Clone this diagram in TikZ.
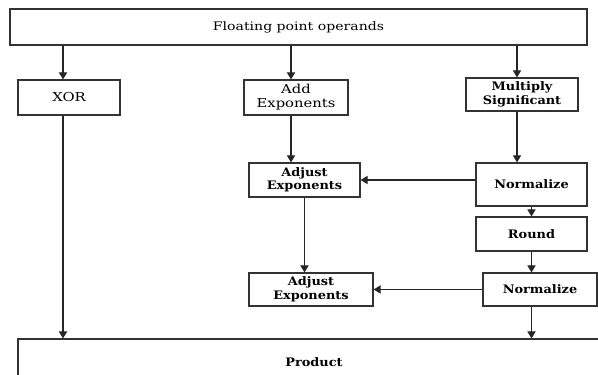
\documentclass[tikz,border=0pt]{standalone}
\usepackage{fontspec}
\setmainfont{DejaVu Serif}
\newfontfamily\widefont{DejaVu Serif}[FakeStretch=1.2]
\newfontfamily\widebf{DejaVu Serif}[FakeStretch=1.1]
\usetikzlibrary{arrows.meta}

\tikzset{
    blk/.style={draw=black!80, line width=1pt, align=center, inner sep=1pt,
        font=\widefont\fontsize{10.5}{12}\selectfont},
    boldblk/.style={blk, font=\widebf\fontsize{10}{11.5}\selectfont\bfseries},
    arr/.style={draw=black!85, line width=1pt, -{Triangle[length=6pt,width=7pt]}}
}

\begin{document}
\begin{tikzpicture}[x=0.03cm, y=-0.03cm]
    \useasboundingbox (0, 0) rectangle (598, 375);
    \clip (0, 0) rectangle (598, 375);

    % operands on top, product at the bottom
    \node[blk, minimum width=577*0.03cm, minimum height=36*0.03cm,
        font=\widefont\fontsize{10}{12}\selectfont] (operands) at (298.5, 27) {Floating point operands};
    \node[boldblk, minimum width=592*0.03cm, minimum height=46*0.03cm] (product) at (314, 362) {Product};

    % sign, exponent and significand paths
    \node[blk, minimum width=102*0.03cm, minimum height=35*0.03cm] (xor) at (69, 97.5) {XOR};
    \node[blk, minimum width=104*0.03cm, minimum height=35*0.03cm] (addexp) at (296, 97.5) {Add\\Exponents};
    \node[boldblk, minimum width=112*0.03cm, minimum height=33*0.03cm] (mult) at (522, 94.5) {Multiply\\Significant};

    \node[boldblk, minimum width=111*0.03cm, minimum height=34*0.03cm] (adjone) at (304.5, 180) {Adjust\\Exponents};
    \node[boldblk, minimum width=111*0.03cm, minimum height=43*0.03cm] (normone) at (531.5, 184.5) {Normalize};
    \node[boldblk, minimum width=111*0.03cm, minimum height=34*0.03cm] (round) at (531.5, 234) {Round};
    \node[boldblk, minimum width=124*0.03cm, minimum height=33*0.03cm] (adjtwo) at (311, 289.5) {Adjust\\Exponents};
    \node[boldblk, minimum width=114*0.03cm, minimum height=33*0.03cm] (normtwo) at (540, 289.5) {Normalize};

    % arrows sit a little left of the box centres
    \coordinate (xorin) at ([xshift=-0.18cm]xor.north);
    \coordinate (xorout) at ([xshift=-0.18cm]xor.south);
    \coordinate (addin) at ([xshift=-0.15cm]addexp.north);
    \coordinate (addout) at ([xshift=-0.15cm]addexp.south);
    \coordinate (multin) at ([xshift=-0.15cm]mult.north);
    \coordinate (multout) at ([xshift=-0.15cm]mult.south);

    \draw[arr] (operands.south -| xorin) -- (xorin);
    \draw[arr] (operands.south -| addin) -- (addin);
    \draw[arr] (operands.south -| multin) -- (multin);

    \draw[arr] (xorout) -- (xorout |- product.north);
    \draw[arr] (addout) -- (addout |- adjone.north);
    \draw[arr] (multout) -- (multout |- normone.north);

    \draw[arr] (normone.west |- adjone.east) -- (adjone.east);
    \draw[arr] (normone.south) -- (round.north);
    \draw[arr] (round.south) -- (round.south |- normtwo.north);
    \draw[arr] (adjone.south) -- (adjone.south |- adjtwo.north);
    \draw[arr] (normtwo.west) -- (adjtwo.east);
    \draw[arr] (round.south |- normtwo.south) -- (round.south |- product.north);
\end{tikzpicture}
\end{document}
